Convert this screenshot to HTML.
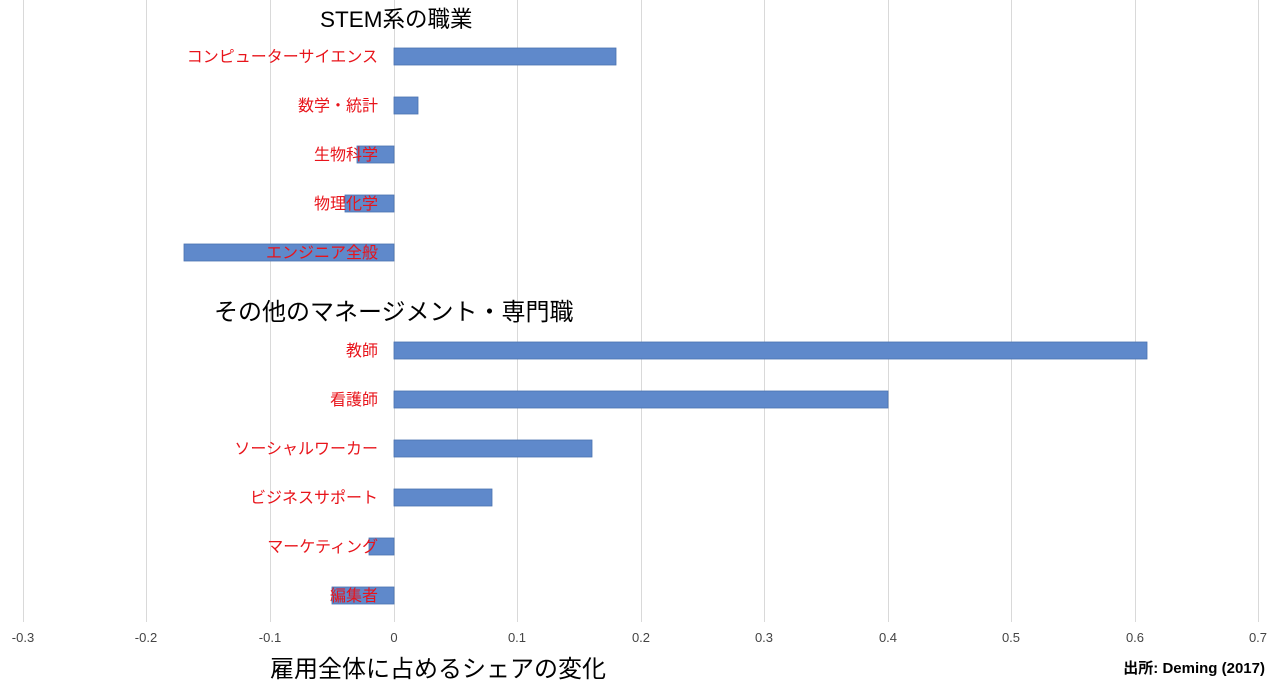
<!DOCTYPE html>
<html><head><meta charset="utf-8"><style>
body{margin:0;background:#fff;}
svg text{font-family:"Liberation Sans","Noto Sans CJK JP",sans-serif;}
</style></head><body>
<svg width="1280" height="690" xmlns="http://www.w3.org/2000/svg">
<g stroke="#d9d9d9" stroke-width="1">
<line x1="23.5" y1="0" x2="23.5" y2="622"/>
<line x1="146.5" y1="0" x2="146.5" y2="622"/>
<line x1="270.5" y1="0" x2="270.5" y2="622"/>
<line x1="394.5" y1="0" x2="394.5" y2="622"/>
<line x1="517.5" y1="0" x2="517.5" y2="622"/>
<line x1="641.5" y1="0" x2="641.5" y2="622"/>
<line x1="764.5" y1="0" x2="764.5" y2="622"/>
<line x1="888.5" y1="0" x2="888.5" y2="622"/>
<line x1="1011.5" y1="0" x2="1011.5" y2="622"/>
<line x1="1135.5" y1="0" x2="1135.5" y2="622"/>
<line x1="1258.5" y1="0" x2="1258.5" y2="622"/>
</g>
<g fill="#5f89cb" stroke="#4a72b0" stroke-width="0.8">
<rect x="394" y="48" width="222" height="17"/>
<rect x="394" y="97" width="24" height="17"/>
<rect x="357" y="146" width="37" height="17"/>
<rect x="345" y="195" width="49" height="17"/>
<rect x="184" y="244" width="210" height="17"/>
<rect x="394" y="342" width="753" height="17"/>
<rect x="394" y="391" width="494" height="17"/>
<rect x="394" y="440" width="198" height="17"/>
<rect x="394" y="489" width="98" height="17"/>
<rect x="369" y="538" width="25" height="17"/>
<rect x="332" y="587" width="62" height="17"/>
</g>
<g fill="#e8141b" font-size="16" text-anchor="end">
<text x="378" y="62">コンピューターサイエンス</text>
<text x="378" y="111">数学・統計</text>
<text x="378" y="160">生物科学</text>
<text x="378" y="209">物理化学</text>
<text x="378" y="258">エンジニア全般</text>
<text x="378" y="356">教師</text>
<text x="378" y="405">看護師</text>
<text x="378" y="454">ソーシャルワーカー</text>
<text x="378" y="503">ビジネスサポート</text>
<text x="378" y="552">マーケティング</text>
<text x="378" y="601">編集者</text>
</g>
<text x="320" y="27" font-size="22.5" fill="#000">STEM系の職業</text>
<text x="214" y="320" font-size="24" fill="#000">その他のマネージメント・専門職</text>
<g font-size="13" fill="#444" text-anchor="middle">
<text x="23" y="642">-0.3</text>
<text x="146" y="642">-0.2</text>
<text x="270" y="642">-0.1</text>
<text x="394" y="642">0</text>
<text x="517" y="642">0.1</text>
<text x="641" y="642">0.2</text>
<text x="764" y="642">0.3</text>
<text x="888" y="642">0.4</text>
<text x="1011" y="642">0.5</text>
<text x="1135" y="642">0.6</text>
<text x="1258" y="642">0.7</text>
</g>
<text x="270" y="677" font-size="24" fill="#000">雇用全体に占めるシェアの変化</text>
<text x="1265" y="673" font-size="15" font-weight="bold" text-anchor="end" fill="#000">出所: Deming (2017)</text>
</svg>
</body></html>
